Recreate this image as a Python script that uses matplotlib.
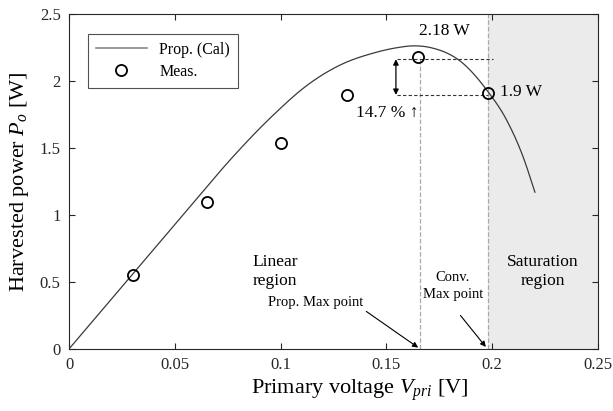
import numpy as np
import matplotlib.pyplot as plt

plt.rcParams['font.family'] = ['Liberation Serif', 'DejaVu Serif']
plt.rcParams['mathtext.fontset'] = 'custom'
plt.rcParams['mathtext.rm'] = 'Liberation Serif'
plt.rcParams['mathtext.it'] = 'Liberation Serif:italic'

# calculated curve (Prop.)
v_cal = [0.0, 0.0304, 0.0458, 0.0619, 0.0758, 0.0965, 0.1123, 0.128, 0.1438,
         0.1549, 0.1627, 0.1706, 0.1863, 0.1974, 0.2068, 0.2147, 0.2202]
p_cal = [0.0, 0.565, 0.852, 1.151, 1.405, 1.745, 1.965, 2.118, 2.208,
         2.248, 2.262, 2.25, 2.13, 1.933, 1.709, 1.43, 1.17]

# measured points
v_meas = [0.0304, 0.0652, 0.1002, 0.1312, 0.165, 0.198]
p_meas = [0.555, 1.095, 1.535, 1.896, 2.18, 1.908]

v_prop_max = 0.1659
v_conv_max = 0.1982
p_prop_max = 2.18
p_conv_max = 1.9


def hermite(xs, ys, n=30):
    # piecewise cubic Hermite in x, slopes from 3-point differences
    x = np.asarray(xs, float)
    y = np.asarray(ys, float)
    h = np.diff(x)
    d = np.diff(y) / h
    m = np.empty_like(y)
    m[0], m[-1] = d[0], d[-1]
    m[1:-1] = (h[1:] * d[:-1] + h[:-1] * d[1:]) / (h[:-1] + h[1:])
    ox, oy = [], []
    for i in range(len(h)):
        t = np.linspace(0, 1, n, endpoint=False)
        h00 = 2 * t ** 3 - 3 * t ** 2 + 1
        h10 = t ** 3 - 2 * t ** 2 + t
        h01 = -2 * t ** 3 + 3 * t ** 2
        h11 = t ** 3 - t ** 2
        ox.extend(x[i] + t * h[i])
        oy.extend(h00 * y[i] + h10 * h[i] * m[i] + h01 * y[i + 1] + h11 * h[i] * m[i + 1])
    ox.append(x[-1])
    oy.append(y[-1])
    return np.array(ox), np.array(oy)


fig = plt.figure(figsize=(6.13, 4.11), dpi=100)
ax = fig.add_axes([0.1126, 0.151, 0.8629, 0.815])

# saturation region shading
ax.axvspan(v_conv_max, 0.25, color='#ebebeb', lw=0, zorder=0)

cx, cy = hermite(v_cal, p_cal)
ax.plot(cx, cy, color='#3a3a3a', lw=0.9, label='Prop. (Cal)', zorder=3)

ax.plot(v_meas, p_meas, 'o', ms=8, mfc='none', mec='black', mew=1.3,
        label='Meas.', zorder=4)

# guide lines
ax.plot([v_prop_max, v_prop_max], [0, p_prop_max], color='#aaaaaa', ls='--', lw=0.9, zorder=2)
ax.plot([v_conv_max, v_conv_max], [0, 2.5], color='#aaaaaa', ls='--', lw=0.9, zorder=2)
ax.plot([0.1549, 0.2005], [2.162, 2.162], color='#333333', lw=0.8, dashes=(3, 2), zorder=2)
ax.plot([0.1549, v_conv_max], [1.896, 1.896], color='#333333', lw=0.8, dashes=(3, 2), zorder=2)

ax.annotate('', xy=(0.1545, 1.896), xytext=(0.1545, 2.162),
            arrowprops=dict(arrowstyle='<|-|>', color='black', lw=0.9,
                            mutation_scale=8, shrinkA=0, shrinkB=0))

ax.text(0.1775, 2.37, '%.2f W' % p_prop_max, ha='center', va='center', fontsize=12.5)
ax.text(0.2035, 1.915, '%.1f W' % p_conv_max, ha='left', va='center', fontsize=12.5)
ax.text(0.1652, 1.765, '14.7 % \u2191', ha='right', va='center', fontsize=12.5)

ax.text(0.0975, 0.58, 'Linear\nregion', ha='center', va='center', fontsize=12.5, linespacing=1.25)
ax.text(0.224, 0.58, 'Saturation\nregion', ha='center', va='center', fontsize=12.5, linespacing=1.25)
ax.text(0.1815, 0.47, 'Conv.\nMax point', ha='center', va='center', fontsize=10.5, linespacing=1.35)
ax.text(0.1165, 0.345, 'Prop. Max point', ha='center', va='center', fontsize=10.5)

ax.annotate('', xy=(0.165, 0.01), xytext=(0.1405, 0.28),
            arrowprops=dict(arrowstyle='-|>', color='black', lw=0.8, mutation_scale=8,
                            shrinkA=0, shrinkB=0))
ax.annotate('', xy=(0.197, 0.015), xytext=(0.185, 0.25),
            arrowprops=dict(arrowstyle='-|>', color='black', lw=0.8, mutation_scale=8,
                            shrinkA=0, shrinkB=0))

ax.set_xlim(0, 0.25)
ax.set_ylim(0, 2.5)
ax.set_xticks([0, 0.05, 0.1, 0.15, 0.2, 0.25])
ax.set_xticklabels(['0', '0.05', '0.1', '0.15', '0.2', '0.25'])
ax.set_yticks([0, 0.5, 1, 1.5, 2, 2.5])
ax.set_yticklabels(['0', '0.5', '1', '1.5', '2', '2.5'])
ax.tick_params(direction='in', top=True, right=True, length=4, width=0.8,
               labelsize=12, colors='#262626', pad=6)
for s in ax.spines.values():
    s.set_color('#262626')
    s.set_linewidth(0.8)

ax.set_xlabel('Primary voltage $V_{pri}$ [V]', fontsize=16, labelpad=2)
ax.xaxis.set_label_coords(0.55, -0.085)
ax.set_ylabel('Harvested power $P_o$ [W]', fontsize=16, labelpad=6)

leg = ax.legend(loc='upper left', bbox_to_anchor=(0.02, 0.965), fontsize=11.5,
                frameon=True, fancybox=False, edgecolor='#262626', handlelength=3.2,
                borderpad=0.5, labelspacing=0.4)
leg.get_frame().set_linewidth(0.8)
leg.get_lines()[0].set_color('#888888')
leg.get_lines()[0].set_linewidth(1.2)

fig.savefig('out.png', dpi=100)
